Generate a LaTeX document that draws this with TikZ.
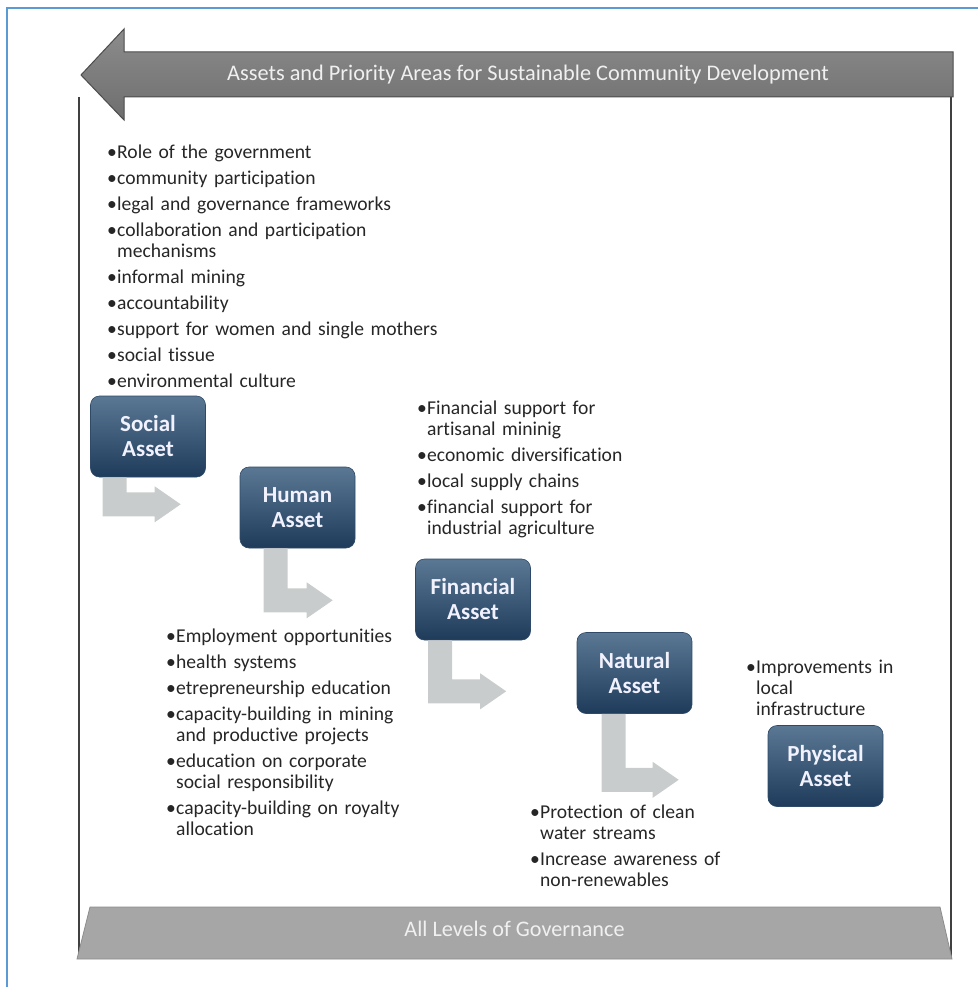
\documentclass[tikz,border=0pt]{standalone}
\usepackage{fontspec}
\setmainfont[Ligatures=NoCommon]{Carlito}
\usetikzlibrary{calc}
\definecolor{boxtop}{HTML}{5A7894}
\definecolor{boxbot}{HTML}{1F3B5B}
\definecolor{boxedge}{HTML}{2E4A68}
\definecolor{garrowc}{HTML}{C9CCCD}
\definecolor{listtext}{HTML}{262626}
\definecolor{bannertop}{HTML}{8C8C8C}
\definecolor{bannerbot}{HTML}{6E6E6E}
\definecolor{trapfill}{HTML}{A6A6A6}
\definecolor{bluefr}{HTML}{5B9BD5}
\newcommand\bul[1]{\par\hangindent=10pt\hangafter=1\noindent\makebox[10pt][l]{•}#1}
\newcommand\gap{\par\vspace{5pt}}
\tikzset{
  asset/.style={rounded corners=9pt, top color=boxtop, bottom color=boxbot, draw=boxedge, line width=0.6pt,
    minimum width=115pt, minimum height=81pt, inner sep=0pt, align=center, text=white!95!blue,
    font=\fontsize{23}{25}\selectfont\bfseries},
  itemlist/.style={anchor=base west, inner sep=0pt, text width=400pt, text=listtext,
    font=\fontsize{19.6}{21}\selectfont},
  garrow/.style={fill=garrowc},
  frameline/.style={draw=black!75, line width=1.3pt},
}
\newcommand\bentarr[4]{%
  \fill[garrow] ($(#1.south west)+(#2,0)$) -- ++(24,0) -- ++(0,#3-24) -- ++(#4-50,0) -- ++(0,-6)
    -- ++(26,18) -- ++(-26,18) -- ++(0,-6) -- ++(-#4+26,0) -- cycle;}
\begin{document}
\begin{tikzpicture}[x=1pt,y=-1pt]
\useasboundingbox (0,0) rectangle (978,987);
% outer blue edges
\draw[bluefr, line width=1.5pt] (7,987) -- (7,8) -- (978,8);
% frame
\draw[frameline] (79,97) -- (79,959);
\draw[frameline] (951,97) -- (951,959);
% top banner arrow
\draw[draw=black!70, line width=1pt, top color=bannertop, bottom color=bannerbot]
  (81,75) -- (124,29) -- (124,52) -- (953,52) -- (953,97) -- (124,97) -- (124,120) -- cycle;
\node[anchor=base, inner sep=0pt, text=white!94!black, font=\fontsize{22.3}{24}\selectfont] (title) at (528,81)
  {Assets and Priority Areas for Sustainable Community Development};
% bottom trapezoid
\draw[fill=trapfill, draw=black!45, line width=0.8pt] (90,907) -- (940,907) -- (952,959) -- (77,959) -- cycle;
\node[anchor=base, inner sep=0pt, text=white!94!black, font=\fontsize{22.2}{24}\selectfont] (gov) at (514.5,936)
  {All Levels of Governance};
% asset boxes
\node[asset] (social) at (148,436.5) {Social\\Asset};
\node[asset] (human) at (297.5,507.5) {Human\\Asset};
\node[asset] (financial) at (473,599.5) {Financial\\Asset};
\node[asset] (natural) at (634.5,673) {Natural\\Asset};
\node[asset] (physical) at (825.5,766) {Physical\\Asset};
% bent arrows
\bentarr{social}{12.5}{39}{78}
\bentarr{human}{24}{64}{69}
\bentarr{financial}{13}{63}{78}
\bentarr{natural}{25}{78}{77}
% lists (anchor lands at the top of the first line; offsets account for that)
\node[itemlist] (sociallist) at (107,137.5) {%
\bul{Role of the government}\gap
\bul{community participation}\gap
\bul{legal and governance frameworks}\gap
\bul{collaboration and participation\newline mechanisms}\gap
\bul{informal mining}\gap
\bul{accountability}\gap
\bul{support for women and single mothers}\gap
\bul{social tissue}\gap
\bul{environmental culture}\par};
\node[itemlist] (financiallist) at (417,393.5) {%
\bul{Financial support for\newline artisanal mininig}\gap
\bul{economic diversification}\gap
\bul{local supply chains}\gap
\bul{financial support for\newline industrial agriculture}\par};
\node[itemlist] (humanlist) at (166,621.5) {%
\bul{Employment opportunities}\gap
\bul{health systems}\gap
\bul{etrepreneurship education}\gap
\bul{capacity-building in mining\newline and productive projects}\gap
\bul{education on corporate\newline social responsibility}\gap
\bul{capacity-building on royalty\newline allocation}\par};
\node[itemlist] (naturallist) at (530,797) {%
\bul{Protection of clean\newline water streams}\gap
\bul{Increase awareness of\newline non-renewables}\par};
\node[itemlist] (physicallist) at (746,652) {%
\bul{Improvements in\newline local\newline infrastructure}\par};
\end{tikzpicture}
\end{document}
